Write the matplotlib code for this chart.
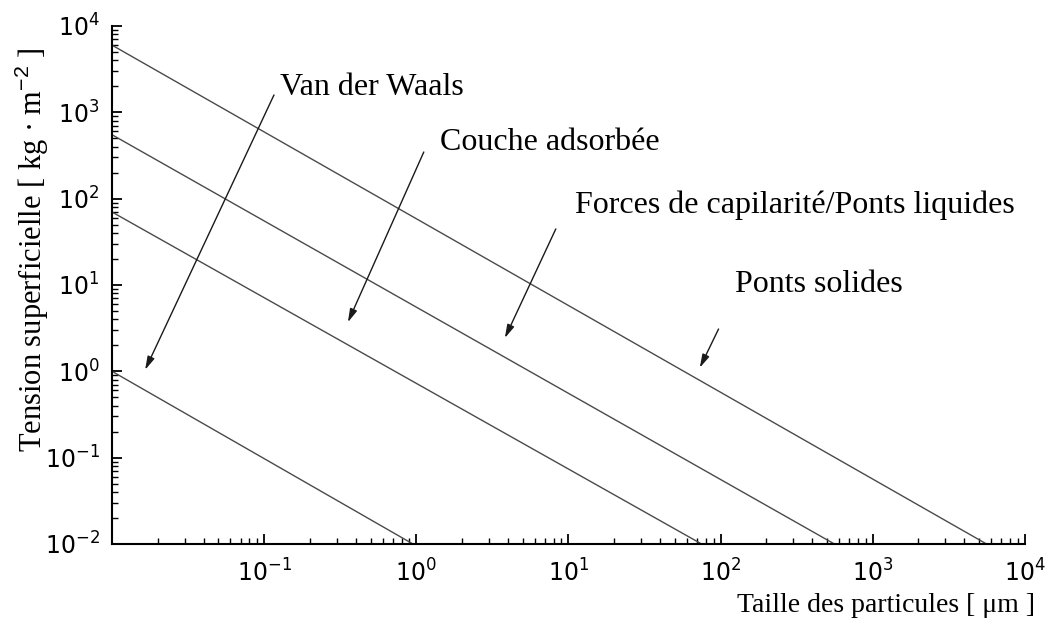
import numpy as np
import matplotlib.pyplot as plt
from matplotlib.ticker import LogLocator, NullFormatter

plt.rcParams['mathtext.fontset'] = 'custom'
plt.rcParams['mathtext.rm'] = 'Liberation Sans'
plt.rcParams['mathtext.it'] = 'Liberation Sans:italic'
plt.rcParams['mathtext.bf'] = 'Liberation Sans:bold'

# surface tension vs particle size: each binding mechanism is a line of slope -1
mechanisms = ['Van der Waals', 'Couche adsorbée',
              'Forces de capilarité/Ponts liquides', 'Ponts solides']
size_start = [0.01, 0.01, 0.01, 0.01]
tension_start = [1.0, 70.0, 550.0, 6000.0]
size_end = [0.95, 75.0, 560.0, 5600.0]
tension_end = [0.01, 0.01, 0.01, 0.01]

fig = plt.figure(figsize=(10.62, 6.31), dpi=100)
ax = fig.add_axes([0.1055, 0.1379, 0.8595, 0.8209])

for x0, y0, x1, y1 in zip(size_start, tension_start, size_end, tension_end):
    ax.plot([x0, x1], [y0, y1], color='#4a4a4a', lw=1.0)

ax.set_xscale('log')
ax.set_yscale('log')
ax.set_xlim(1e-2, 1e4)
ax.set_ylim(1e-2, 1e4)

for axis in (ax.xaxis, ax.yaxis):
    axis.set_major_locator(LogLocator(base=10, numticks=20))
    axis.set_minor_locator(LogLocator(base=10, subs=np.arange(2, 10), numticks=20))
    axis.set_minor_formatter(NullFormatter())

ax.set_xticks([1e-1, 1, 1e1, 1e2, 1e3, 1e4])
ax.set_yticks([1e-2, 1e-1, 1, 1e1, 1e2, 1e3, 1e4])
ax.tick_params(which='major', direction='in', length=7, width=1.3,
               labelsize=17, pad=9)
ax.tick_params(which='minor', direction='in', length=4, width=1.0)
ax.tick_params(axis='x', which='major', pad=11)

for side in ('top', 'right'):
    ax.spines[side].set_visible(False)
for side in ('left', 'bottom'):
    ax.spines[side].set_linewidth(1.5)

# arrows pointing at each line, labels beside the tails
arrow_tail = [(0.116, 1590), (1.12, 347), (8.26, 44.6), (97, 3.09)]
arrow_head = [(0.0165, 1.04), (0.355, 3.7), (3.82, 2.43), (73, 1.1)]
label_pos = [(0.127, 1915), (1.43, 442), (11.0, 84.5), (124, 10)]

for name, tail, head, pos in zip(mechanisms, arrow_tail, arrow_head, label_pos):
    ax.annotate('', xy=head, xytext=tail,
                arrowprops=dict(arrowstyle='-|>,head_length=0.8,head_width=0.22',
                                color='#1a1a1a', lw=1.0, shrinkA=0, shrinkB=0))
    ax.text(pos[0], pos[1], name, family='Liberation Serif', fontsize=23,
            ha='left', va='center', color='black')

fig.text(0.975, 0.04, 'Taille des particules [ μm ]', family='Liberation Serif',
         fontsize=20, ha='right', va='center')
fig.text(0.03, 0.605, 'Tension superficielle [ kg · m$^{-2}$ ]',
         family='Liberation Serif', fontsize=22, rotation=90,
         ha='center', va='center')

fig.savefig('out.png', dpi=100)
